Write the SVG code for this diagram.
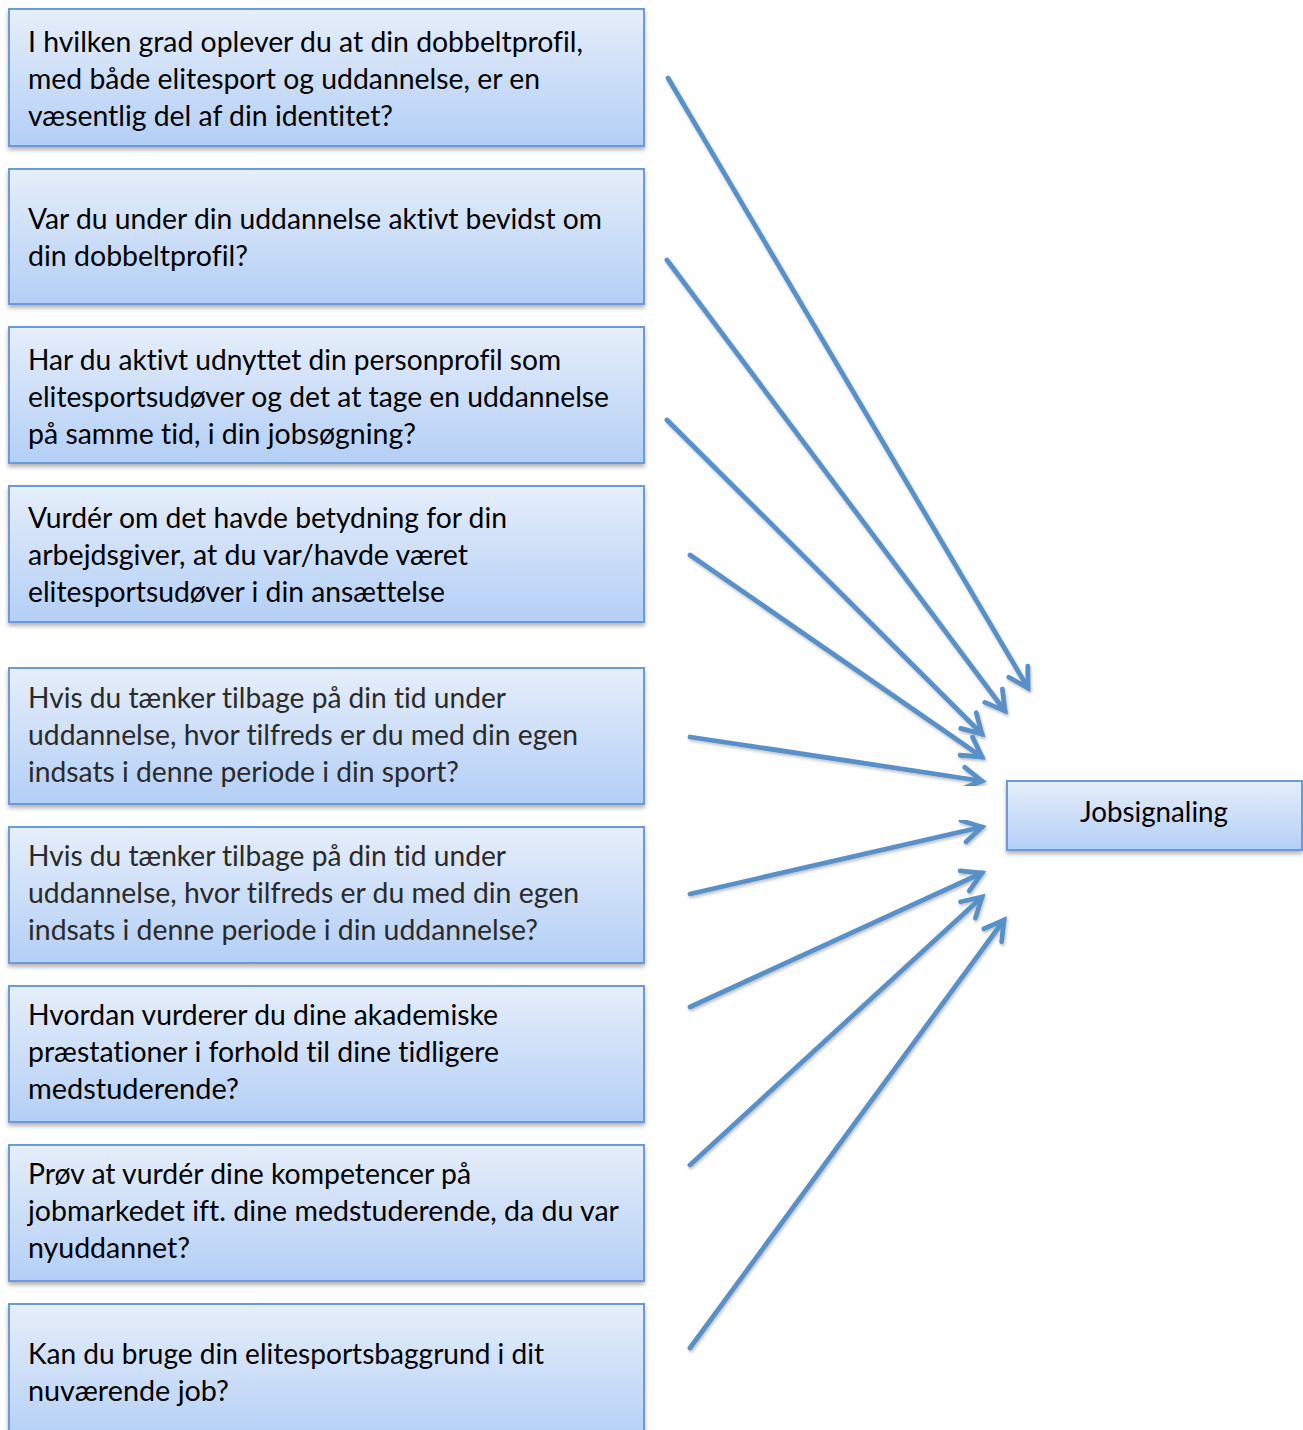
<svg xmlns="http://www.w3.org/2000/svg" width="1303" height="1430" viewBox="0 0 1303 1430">
<defs>
<linearGradient id="bg" x1="0" y1="0" x2="0" y2="1">
<stop offset="0" stop-color="#e6eefa"/>
<stop offset="1" stop-color="#b3cff6"/>
</linearGradient>
<filter id="sh" x="-5%" y="-10%" width="110%" height="130%">
<feDropShadow dx="0" dy="3" stdDeviation="2" flood-color="#000" flood-opacity="0.3"/>
</filter>
<filter id="ash" x="-10%" y="-10%" width="120%" height="120%">
<feDropShadow dx="1" dy="2" stdDeviation="1.5" flood-color="#000" flood-opacity="0.25"/>
</filter>
<marker id="ah" markerUnits="userSpaceOnUse" markerWidth="30" markerHeight="30" refX="22" refY="13" orient="auto" overflow="visible">
<path d="M3,2 L22,13 L3,24" fill="none" stroke="#5890c8" stroke-width="4.8" stroke-linecap="round" stroke-linejoin="miter"/>
</marker>
</defs>
<style>
.box{fill:url(#bg);stroke:#6a9bd6;stroke-width:2;filter:url(#sh)}
.t{font-family:Lato,"Open Sans","Liberation Sans",sans-serif;font-size:28px;fill:#000;font-variant-ligatures:none}
.g{fill:#2a2a2a}
.c{fill:none;stroke:#5890c8;stroke-width:4.8;stroke-linecap:round;marker-end:url(#ah);filter:url(#ash)}
</style>
<rect width="1303" height="1430" fill="#fff"/>
<g id="connectors">
<line class="c" x1="668" y1="78" x2="1028" y2="688"/>
<line class="c" x1="667" y1="260" x2="1005" y2="711"/>
<line class="c" x1="667" y1="420" x2="982" y2="734"/>
<line class="c" x1="690" y1="555" x2="982" y2="757"/>
<line class="c" x1="690" y1="737" x2="982" y2="781"/>
<line class="c" x1="690" y1="894" x2="982" y2="827"/>
<line class="c" x1="690" y1="1007" x2="982" y2="873"/>
<line class="c" x1="690" y1="1165" x2="982" y2="897"/>
<line class="c" x1="690" y1="1348" x2="1004" y2="920"/>
</g>
<g id="n1">
<rect class="box" x="9" y="9" width="635" height="137"/>
<text class="t" x="28" y="52" textLength="555" lengthAdjust="spacingAndGlyphs">I hvilken grad oplever du at din dobbeltprofil,</text>
<text class="t" x="28" y="89" textLength="512" lengthAdjust="spacingAndGlyphs">med både elitesport og uddannelse, er en</text>
<text class="t" x="28" y="126" textLength="365" lengthAdjust="spacingAndGlyphs">væsentlig del af din identitet?</text>
</g>
<g id="n2">
<rect class="box" x="9" y="169" width="635" height="135"/>
<text class="t" x="28" y="229" textLength="574" lengthAdjust="spacingAndGlyphs">Var du under din uddannelse aktivt bevidst om</text>
<text class="t" x="28" y="266" textLength="220" lengthAdjust="spacingAndGlyphs">din dobbeltprofil?</text>
</g>
<g id="n3">
<rect class="box" x="9" y="327" width="635" height="136"/>
<text class="t" x="28" y="370" textLength="533" lengthAdjust="spacingAndGlyphs">Har du aktivt udnyttet din personprofil som</text>
<text class="t" x="28" y="407" textLength="581" lengthAdjust="spacingAndGlyphs">elitesportsudøver og det at tage en uddannelse</text>
<text class="t" x="28" y="444" textLength="388" lengthAdjust="spacingAndGlyphs">på samme tid, i din jobsøgning?</text>
</g>
<g id="n4">
<rect class="box" x="9" y="486" width="635" height="136"/>
<text class="t" x="28" y="528" textLength="479" lengthAdjust="spacingAndGlyphs">Vurdér om det havde betydning for din</text>
<text class="t" x="28" y="565" textLength="440" lengthAdjust="spacingAndGlyphs">arbejdsgiver, at du var/havde været</text>
<text class="t" x="28" y="602" textLength="417" lengthAdjust="spacingAndGlyphs">elitesportsudøver i din ansættelse</text>
</g>
<g id="n5">
<rect class="box" x="9" y="668" width="635" height="136"/>
<text class="t g" x="28" y="708" textLength="478" lengthAdjust="spacingAndGlyphs">Hvis du tænker tilbage på din tid under</text>
<text class="t g" x="28" y="745" textLength="550" lengthAdjust="spacingAndGlyphs">uddannelse, hvor tilfreds er du med din egen</text>
<text class="t g" x="28" y="782" textLength="431" lengthAdjust="spacingAndGlyphs">indsats i denne periode i din sport?</text>
</g>
<g id="n6">
<rect class="box" x="9" y="827" width="635" height="136"/>
<text class="t g" x="28" y="866" textLength="478" lengthAdjust="spacingAndGlyphs">Hvis du tænker tilbage på din tid under</text>
<text class="t g" x="28" y="903" textLength="551" lengthAdjust="spacingAndGlyphs">uddannelse, hvor tilfreds er du med din egen</text>
<text class="t g" x="28" y="940" textLength="510" lengthAdjust="spacingAndGlyphs">indsats i denne periode i din uddannelse?</text>
</g>
<g id="n7">
<rect class="box" x="9" y="986" width="635" height="136"/>
<text class="t" x="28" y="1025" textLength="470" lengthAdjust="spacingAndGlyphs">Hvordan vurderer du dine akademiske</text>
<text class="t" x="28" y="1062" textLength="471" lengthAdjust="spacingAndGlyphs">præstationer i forhold til dine tidligere</text>
<text class="t" x="28" y="1099" textLength="211" lengthAdjust="spacingAndGlyphs">medstuderende?</text>
</g>
<g id="n8">
<rect class="box" x="9" y="1145" width="635" height="136"/>
<text class="t" x="28" y="1184" textLength="443" lengthAdjust="spacingAndGlyphs">Prøv at vurdér dine kompetencer på</text>
<text class="t" x="28" y="1221" textLength="591" lengthAdjust="spacingAndGlyphs">jobmarkedet ift. dine medstuderende, da du var</text>
<text class="t" x="28" y="1258" textLength="162" lengthAdjust="spacingAndGlyphs">nyuddannet?</text>
</g>
<g id="n9">
<rect class="box" x="9" y="1304" width="635" height="140"/>
<text class="t" x="28" y="1364" textLength="516" lengthAdjust="spacingAndGlyphs">Kan du bruge din elitesportsbaggrund i dit</text>
<text class="t" x="28" y="1401" textLength="201" lengthAdjust="spacingAndGlyphs">nuværende job?</text>
</g>
<g id="jobsignaling">
<rect class="box" x="1007" y="781" width="295" height="69"/>
<text class="t" x="1154" y="822" text-anchor="middle" textLength="148" lengthAdjust="spacingAndGlyphs">Jobsignaling</text>
</g>
</svg>
